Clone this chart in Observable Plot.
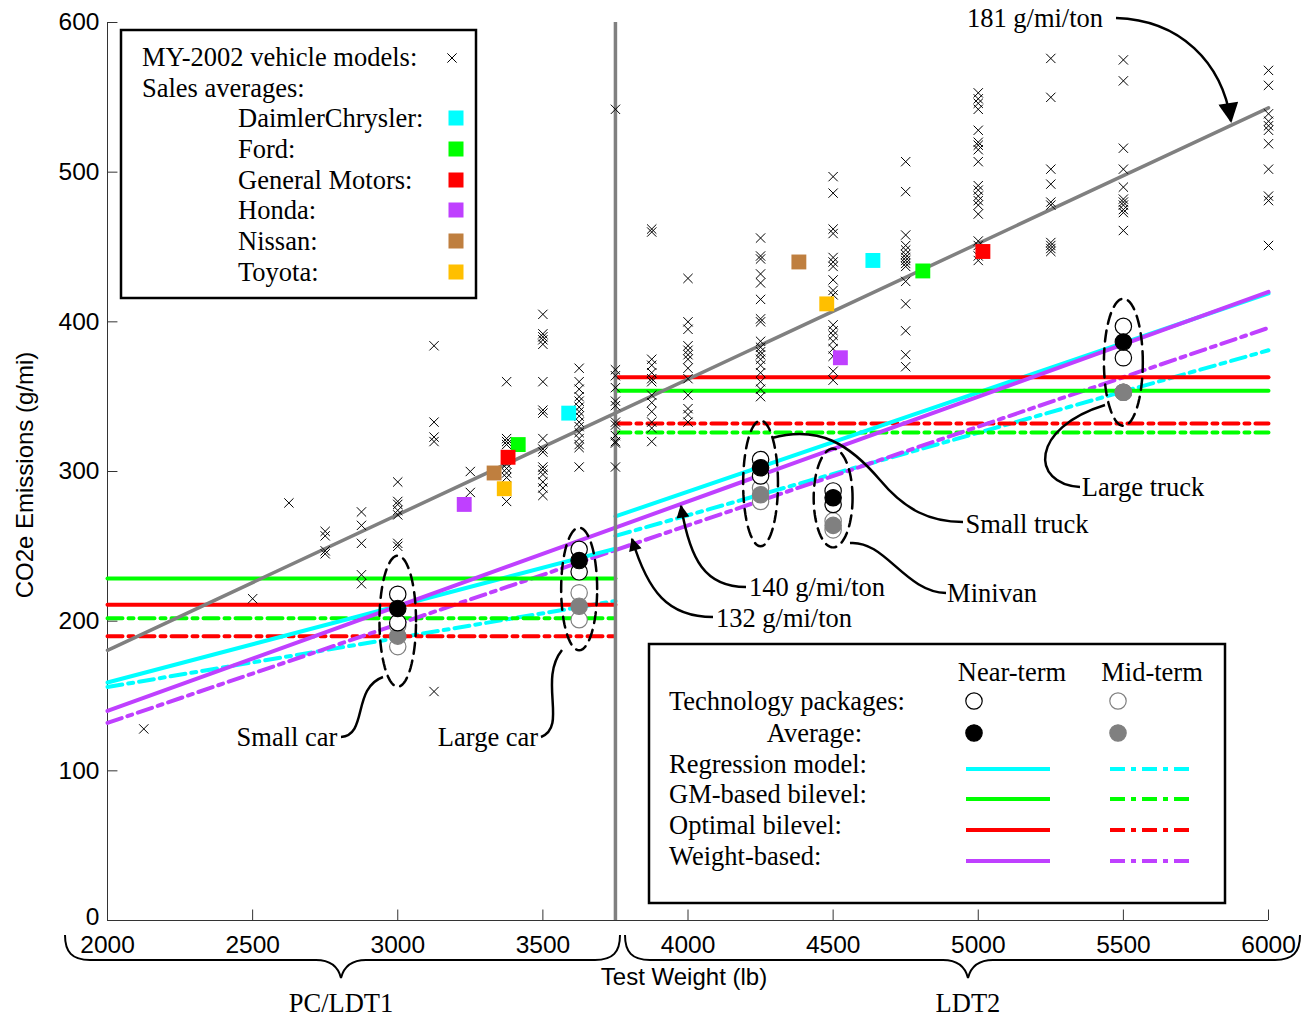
<!DOCTYPE html>
<html><head><meta charset="utf-8">
<script src="https://cdn.jsdelivr.net/npm/d3@7"></script>
<script src="https://cdn.jsdelivr.net/npm/@observablehq/plot@0.6"></script>
<style>body{margin:0;background:#fff}</style>
</head><body><div id="chart"></div>
<script>
// ---------- DATA ----------
const xTicks = [2000, 2500, 3000, 3500, 4000, 4500, 5000, 5500, 6000];
const yTicks = [0, 100, 200, 300, 400, 500, 600];

// MY-2002 vehicle models: test weight classes (lb) and CO2e (g/mi) per class
const modelClasses = [2125, 2500, 2625, 2750, 2875, 3000, 3125, 3250, 3375, 3500, 3625, 3750, 3875, 4000, 4250, 4500, 4750, 5000, 5250, 5500, 6000];
const modelCO2 = [
  [128],
  [215],
  [279],
  [260, 257, 247, 245],
  [273, 264, 252, 231, 225],
  [293, 280, 278, 274, 271, 252, 250],
  [384, 333, 323, 320, 153],
  [300, 286],
  [360, 322, 320, 318, 305, 302, 299, 296, 280],
  [405, 392, 390, 388, 385, 360, 341, 339, 322, 315, 313, 303, 301, 298, 293, 289, 284],
  [369, 360, 355, 350, 347, 343, 340, 337, 333, 330, 326, 322, 318, 316, 303],
  [542, 368, 364, 356, 347, 344, 333, 331, 324, 320, 319, 303],
  [462, 460, 375, 371, 366, 362, 360, 351, 346, 340, 333, 329, 320],
  [429, 400, 395, 384, 381, 378, 375, 369, 362, 351, 342, 338, 333],
  [456, 444, 442, 432, 426, 415, 402, 400, 387, 383, 380, 378, 375, 371, 366, 360, 355, 350],
  [497, 486, 462, 459, 443, 440, 437, 428, 421, 418, 398, 394, 391, 387, 382, 377, 367, 361],
  [507, 487, 458, 451, 448, 445, 443, 441, 439, 437, 427, 412, 394, 378, 370],
  [553, 549, 546, 542, 528, 520, 518, 515, 507, 491, 488, 484, 481, 478, 472, 454, 451, 444, 441],
  [576, 550, 502, 492, 480, 478, 453, 451, 449, 447],
  [575, 561, 516, 502, 490, 482, 480, 478, 475, 473, 461],
  [568, 558, 539, 534, 531, 528, 519, 502, 484, 481, 451]
];

// Sales averages by manufacturer (cars, trucks)
const makers = ["DaimlerChrysler", "Ford", "General Motors", "Honda", "Nissan", "Toyota"];
const makerColors = ["#00ffff", "#00ff00", "#ff0000", "#bf40ff", "#bf7f3f", "#ffbf00"];
const salesCarWeight = [3589, 3415, 3380, 3229, 3332, 3367];
const salesCarCO2 = [339, 318, 309.5, 278, 299, 288.5];
const salesTruckWeight = [4637, 4809, 5016, 4525, 4382, 4478];
const salesTruckCO2 = [441, 434, 447, 376, 440, 412];

// Regression of all models (181 g/mi/ton)
const trendWeight = [2000, 6000];
const trendCO2 = [180.5, 543];
const classBoundary = [3750];

// Policy standards: per policy, [PC/LDT1 segment, LDT2 segment] end values
const policyNames = ["Regression model", "GM-based bilevel", "Optimal bilevel", "Weight-based"];
const policyColors = ["#00ffff", "#00ff00", "#ff0000", "#bf40ff"];
const segmentWeights = [[2000, 3750], [3750, 6000]];
const nearTermLevels = [[[159, 248.5], [270, 419]], [[228.5, 228.5], [354, 354]], [[211, 211], [363, 363]], [[140, 262.5], [262.5, 420]]];
const midTermLevels = [[[156, 213.5], [257, 381]], [[202, 202], [326, 326]], [[190, 190], [332, 332]], [[132, 247.5], [247.5, 396]]];

// Technology packages per vehicle class
const groupNames = ["Small car", "Large car", "Small truck", "Minivan", "Large truck"];
const groupWeight = [3000, 3625, 4250, 4500, 5500];
const nearPackages = [[218, 199], [248, 233], [308, 297], [287, 278], [397, 376]];
const nearAverage = [208.5, 240.5, 302.5, 282.5, 386.5];
const midPackages = [[197, 183], [219, 201], [289, 280], [267, 261], [353, 353]];
const midAverage = [190, 210, 284.5, 264, 353];
const ellipseCenterCO2 = [200, 221.5, 292, 282.3, 373];
const ellipseHalfWeight = [63, 62, 60, 67, 67];
const ellipseHalfCO2 = [43.8, 41, 42, 33, 42.5];

// ---------- TABLES ----------
const models = modelClasses.flatMap((w, i) => modelCO2[i].map(v => ({weight: w, co2: v})));
const sales = makers.flatMap((m, i) => [
  {maker: m, color: makerColors[i], weight: salesCarWeight[i], co2: salesCarCO2[i]},
  {maker: m, color: makerColors[i], weight: salesTruckWeight[i], co2: salesTruckCO2[i]}
]);
const trend = trendWeight.map((w, i) => ({weight: w, co2: trendCO2[i]}));
function policyRows(levels, term) {
  const rows = [];
  policyNames.forEach((p, i) => segmentWeights.forEach((ws, s) => ws.forEach((w, j) =>
    rows.push({key: p + term + s, color: policyColors[i], weight: w, co2: levels[i][s][j]}))));
  return rows;
}
const nearRows = policyRows(nearTermLevels, "near");
const midRows = policyRows(midTermLevels, "mid");
const pk = (arr) => groupNames.flatMap((g, i) => arr[i].map(v => ({group: g, weight: groupWeight[i], co2: v})));
const nearPk = pk(nearPackages), midPk = pk(midPackages);
const nearAvg = groupNames.map((g, i) => ({group: g, weight: groupWeight[i], co2: nearAverage[i]}));
const midAvg = groupNames.map((g, i) => ({group: g, weight: groupWeight[i], co2: midAverage[i]}));
const ellipseRows = groupNames.flatMap((g, i) => d3.range(73).map(k => {
  const t = k / 72 * 2 * Math.PI;
  return {group: g, weight: groupWeight[i] + ellipseHalfWeight[i] * Math.cos(t), co2: ellipseCenterCO2[i] + ellipseHalfCO2[i] * Math.sin(t)};
}));

// ---------- PLOT ----------
const W = 1302, H = 1019, mL = 107, mR = 34, mT = 22, mB = 99;
const SANS = "Liberation Sans, Arial, sans-serif";
const SERIF = "Liberation Serif, Times New Roman, serif";
const FS = 26.5;
const DD = "15,6,5,6";

const chart = Plot.plot({
  width: W, height: H, marginLeft: mL, marginRight: mR, marginTop: mT, marginBottom: mB,
  x: {domain: [2000, 6000], axis: null},
  y: {domain: [0, 600], axis: null},
  color: {type: "identity"},
  style: {background: "white", overflow: "visible"},
  marks: [
    Plot.ruleX([2000], {y1: 0, y2: 600, stroke: "#333", strokeWidth: 1}),
    Plot.ruleY([0], {x1: 2000, x2: 6000, stroke: "#333", strokeWidth: 1}),
    Plot.ruleY(yTicks, {x1: 2000, x2: 2036, stroke: "#333", strokeWidth: 1}),
    Plot.ruleX(xTicks, {y1: 0, y2: 7, stroke: "#333", strokeWidth: 1}),
    Plot.text(xTicks, {x: d => d, y: 0, dy: 25, text: d => String(d), fontFamily: SANS, fontSize: 24.5, fill: "black"}),
    Plot.text(yTicks.filter(d => d !== 0), {x: 2000, y: d => d, dx: -8, textAnchor: "end", text: d => String(d), fontFamily: SANS, fontSize: 24.5, fill: "black"}),
    Plot.text(yTicks.filter(d => d === 0), {x: 2000, y: d => d, dx: -8, dy: -3, textAnchor: "end", text: d => String(d), fontFamily: SANS, fontSize: 24.5, fill: "black"}),
    // policy lines
    Plot.line(midRows, {x: "weight", y: "co2", z: "key", stroke: "color", strokeWidth: 4, strokeDasharray: DD}),
    Plot.line(nearRows, {x: "weight", y: "co2", z: "key", stroke: "color", strokeWidth: 4}),
    // model regression & class boundary
    Plot.line(trend, {x: "weight", y: "co2", stroke: "#808080", strokeWidth: 3.5}),
    Plot.ruleX(classBoundary, {y1: 0, y2: 600, stroke: "#808080", strokeWidth: 3.5}),
    // vehicle models
    Plot.dot(models, {x: "weight", y: "co2", symbol: "times", r: 4.3, stroke: "black", strokeWidth: 1}),
    // sales averages
    Plot.dot(sales, {x: "weight", y: "co2", symbol: "square", r: 8.4, fill: "color", stroke: "none"}),
    // technology packages
    Plot.dot(midPk, {x: "weight", y: "co2", r: 8.2, fill: "white", stroke: "#808080", strokeWidth: 1.2}),
    Plot.dot(midAvg, {x: "weight", y: "co2", r: 8.2, fill: "#808080", stroke: "#808080", strokeWidth: 1.2}),
    Plot.dot(nearPk, {x: "weight", y: "co2", r: 8.2, fill: "white", stroke: "black", strokeWidth: 1.2}),
    Plot.dot(nearAvg, {x: "weight", y: "co2", r: 8.2, fill: "black", stroke: "black", strokeWidth: 1.2}),
    Plot.line(ellipseRows, {x: "weight", y: "co2", z: "group", stroke: "black", strokeWidth: 2.5, strokeDasharray: "11,7"})
  ]
});
document.getElementById("chart").appendChild(chart);

// ---------- ANNOTATIONS & LEGENDS ----------
const svg = d3.select(chart);
const defs = svg.append("defs");
function marker(id, w, h) {
  defs.append("marker").attr("id", id).attr("viewBox", "0 0 10 10").attr("refX", 9).attr("refY", 5)
    .attr("markerWidth", w).attr("markerHeight", h).attr("markerUnits", "userSpaceOnUse").attr("orient", "auto")
    .append("path").attr("d", "M0,0L10,5L0,10Z").attr("fill", "black");
}
marker("ahBig", 24, 20);
marker("ahSmall", 17, 13);
const ann = svg.append("g");
function txt(x, y, s, opts = {}) {
  return ann.append("text").attr("x", x).attr("y", y).text(s)
    .attr("font-family", opts.font || SERIF).attr("font-size", opts.size || FS)
    .attr("text-anchor", opts.anchor || "start").attr("fill", "black");
}
function curve(d, head) {
  const p = ann.append("path").attr("d", d).attr("fill", "none").attr("stroke", "black").attr("stroke-width", 2.5);
  if (head) p.attr("marker-end", `url(#${head})`);
}
// slope labels
txt(1035, 27, "181 g/mi/ton", {anchor: "middle"});
curve("M1116,18 C1180,20 1222,62 1231,121", "ahBig");
txt(817, 596, "140 g/mi/ton", {anchor: "middle"});
curve("M746,587 C705,587 690,560 681,506", "ahSmall");
txt(784, 627, "132 g/mi/ton", {anchor: "middle"});
curve("M713,617 C668,617 648,592 632,539", "ahSmall");
// class labels
txt(1027, 533, "Small truck", {anchor: "middle"});
curve("M772,438 C820,425 850,445 880,480 C905,510 930,522 963,522");
txt(992, 602, "Minivan", {anchor: "middle"});
curve("M850,543 C885,540 905,592 946,593");
txt(1143, 496, "Large truck", {anchor: "middle"});
curve("M1080,487 C1030,484 1030,428 1105,405");
txt(287, 746, "Small car", {anchor: "middle"});
curve("M341,737 C368,735 352,688 383,677");
txt(488, 746, "Large car", {anchor: "middle"});
curve("M541,737 C568,727 538,680 562,650");

// braces
function brace(x0, x1, xm) {
  return `M${x0},935 C${x0},952 ${x0+7},960 ${x0+25},960 L${xm-25},960 C${xm-11},960 ${xm-3},966 ${xm},978 ` +
         `C${xm+3},966 ${xm+11},960 ${xm+25},960 L${x1-25},960 C${x1-7},960 ${x1},952 ${x1},935`;
}
ann.append("path").attr("d", brace(65, 620, 341)).attr("fill", "none").attr("stroke", "black").attr("stroke-width", 2);
ann.append("path").attr("d", brace(625, 1300, 968)).attr("fill", "none").attr("stroke", "black").attr("stroke-width", 2);
txt(341, 1012, "PC/LDT1", {anchor: "middle"});
txt(968, 1012, "LDT2", {anchor: "middle"});
txt(684, 985, "Test Weight (lb)", {anchor: "middle", font: SANS, size: 24});
ann.append("text").attr("transform", "translate(33,475) rotate(-90)").attr("text-anchor", "middle")
  .attr("font-family", SANS).attr("font-size", 24).text("CO2e Emissions (g/mi)");

// legend 1
ann.append("rect").attr("x", 121).attr("y", 30).attr("width", 355).attr("height", 268)
  .attr("fill", "white").attr("stroke", "black").attr("stroke-width", 2.5);
txt(142, 66, "MY-2002 vehicle models:");
ann.append("path").attr("transform", "translate(452,58)").attr("d", d3.symbol(d3.symbolTimes, 4.3 * 4.3 * Math.PI)())
  .attr("fill", "none").attr("stroke", "black").attr("stroke-width", 1);
txt(142, 97, "Sales averages:");
const legRowY = [118, 149, 180, 210, 241, 272];
makers.forEach((m, i) => {
  txt(238, legRowY[i] + 9, m + ":");
  ann.append("rect").attr("x", 448.5).attr("y", legRowY[i] - 7.5).attr("width", 15).attr("height", 15).attr("fill", makerColors[i]);
});

// legend 2
ann.append("rect").attr("x", 649).attr("y", 644).attr("width", 576).attr("height", 259)
  .attr("fill", "white").attr("stroke", "black").attr("stroke-width", 2.5);
txt(1012, 681, "Near-term", {anchor: "middle"});
txt(1152, 681, "Mid-term", {anchor: "middle"});
txt(669, 710, "Technology packages:");
txt(862, 742, "Average:", {anchor: "end"});
function circ(x, y, fill, stroke) {
  ann.append("circle").attr("cx", x).attr("cy", y).attr("r", 8.2).attr("fill", fill).attr("stroke", stroke).attr("stroke-width", 1.2);
}
circ(974, 701, "white", "black"); circ(1118, 701, "white", "#808080");
circ(974, 733, "black", "black"); circ(1118, 733, "#808080", "#808080");
const lineRowY = [769, 799, 830, 861];
policyNames.forEach((p, i) => {
  txt(669, lineRowY[i] + 4, p + ":");
  ann.append("line").attr("x1", 966).attr("x2", 1050).attr("y1", lineRowY[i]).attr("y2", lineRowY[i])
    .attr("stroke", policyColors[i]).attr("stroke-width", 4);
  ann.append("line").attr("x1", 1110).attr("x2", 1194).attr("y1", lineRowY[i]).attr("y2", lineRowY[i])
    .attr("stroke", policyColors[i]).attr("stroke-width", 4).attr("stroke-dasharray", DD);
});
</script></body></html>
